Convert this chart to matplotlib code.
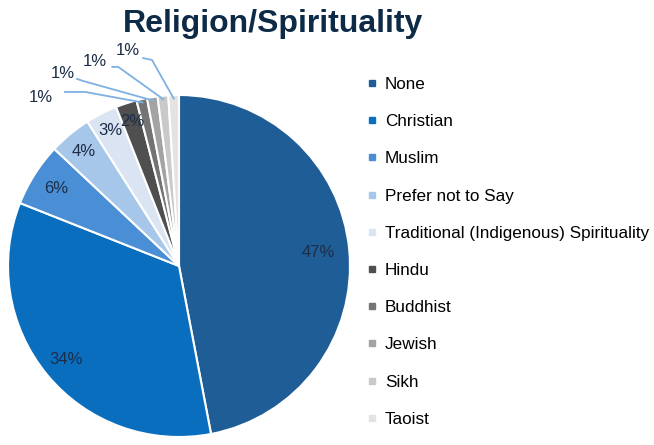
import numpy as np
import matplotlib
matplotlib.use("Agg")
import matplotlib.pyplot as plt
from matplotlib.lines import Line2D

plt.rcParams['font.family'] = ['Liberation Sans', 'DejaVu Sans']

categories = ['None', 'Christian', 'Muslim', 'Prefer not to Say',
              'Traditional (Indigenous) Spirituality', 'Hindu', 'Buddhist',
              'Jewish', 'Sikh', 'Taoist']
shares = [47, 34, 6, 4, 3, 2, 1, 1, 1, 1]
colors = ['#1F5D96', '#0A6EBE', '#4A8FD6', '#A6C6EA', '#DAE4F2',
          '#4F4F4F', '#747474', '#A3A3A3', '#C9C9C9', '#E3E3E3']
label_color = '#1C2D48'
leader_color = '#7FB0E2'

W, H = 654, 445
fig = plt.figure(figsize=(W / 100, H / 100), dpi=100)

# pie centred at (179, 266) px with radius 171 px
cx, cy, r = 179, 266, 171
ax = fig.add_axes([(cx - r) / W, (H - cy - r) / H, 2 * r / W, 2 * r / H])
wedges, _ = ax.pie(shares, colors=colors, startangle=90, counterclock=False,
                   radius=1, wedgeprops=dict(edgecolor='white', linewidth=1.5))
ax.set_xlim(-1, 1)
ax.set_ylim(-1, 1)
ax.set_aspect('equal')
ax.axis('off')

# text and knee offsets for the small slices that get leader lines
outside = {
    6: ((-0.807, 0.985), (-0.667, 1.018), (-0.55, 1.018)),
    7: ((-0.678, 1.128), (-0.596, 1.094), (-0.561, 1.082)),
    8: ((-0.491, 1.193), (-0.39, 1.164), (-0.355, 1.164)),
    9: ((-0.298, 1.258), (-0.21, 1.216), (-0.158, 1.205)),
}
inner_r = [0.82, 0.86, 0.85, 0.87, 0.89, 0.89]

for i, (w, v) in enumerate(zip(wedges, shares)):
    mid = np.deg2rad((w.theta1 + w.theta2) / 2)
    if i in outside:
        tpos, p0, p1 = outside[i]
        ex, ey = 0.98 * np.cos(mid), 0.98 * np.sin(mid)
        ax.plot([p0[0], p1[0], ex], [p0[1], p1[1], ey], color=leader_color,
                lw=1.3, clip_on=False, zorder=1)
        ax.text(tpos[0], tpos[1], f'{v}%', ha='center', va='center',
                fontsize=12, color=label_color, clip_on=False)
    else:
        rr = inner_r[i]
        ax.text(rr * np.cos(mid), rr * np.sin(mid), f'{v}%', ha='center',
                va='center', fontsize=12, color=label_color)

fig.text(273 / W, 1 - 24 / H, 'Religion/Spirituality', ha='center', va='center',
         fontsize=23, fontweight='bold', color='#0D2A47')

handles = [Line2D([], [], marker='s', linestyle='none', markersize=5,
                  markerfacecolor=c, markeredgecolor=c) for c in colors]
fig.legend(handles, categories, loc='upper left',
           bbox_to_anchor=(367 / W, 1 - 77 / H), frameon=False,
           fontsize=12.3, labelspacing=1.3, handlelength=0.6,
           handletextpad=0.45, borderaxespad=0, borderpad=0)

fig.savefig('out.png', dpi=100)
